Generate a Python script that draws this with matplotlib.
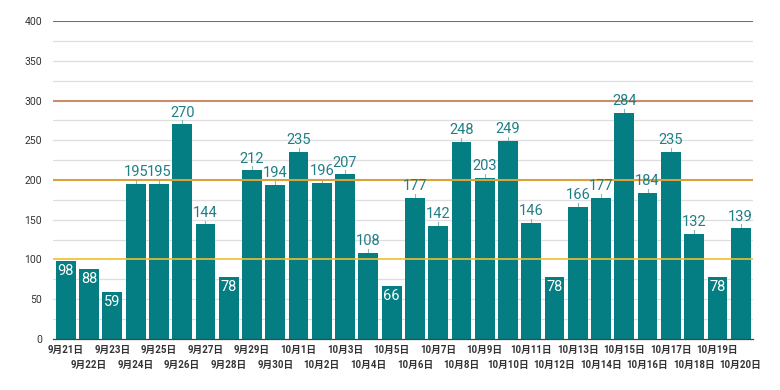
import matplotlib
matplotlib.use("Agg")
import matplotlib.pyplot as plt
import numpy as np

dates = ["9月21日", "9月22日", "9月23日", "9月24日", "9月25日", "9月26日", "9月27日", "9月28日",
         "9月29日", "9月30日", "10月1日", "10月2日", "10月3日", "10月4日", "10月5日", "10月6日",
         "10月7日", "10月8日", "10月9日", "10月10日", "10月11日", "10月12日", "10月13日", "10月14日",
         "10月15日", "10月16日", "10月17日", "10月18日", "10月19日", "10月20日"]
values = [98, 88, 59, 195, 195, 270, 144, 78, 212, 194, 235, 196, 207, 108, 66, 177,
          142, 248, 203, 249, 146, 78, 166, 177, 284, 184, 235, 132, 78, 139]
ref_levels = [100, 200, 300, 400]
ref_colors = ["#f0c030", "#d9a23a", "#c98c6c", "#93645a"]
ref_widths = [1.2, 1.5, 1.5, 1.5]
yticks = [0, 50, 100, 150, 200, 250, 300, 350, 400]

plt.rcParams['font.family'] = ['Roboto', 'Noto Sans CJK JP', 'DejaVu Sans']

fig = plt.figure(figsize=(7.8, 3.9), dpi=100)
ax = fig.add_axes([0.068, 0.131, 0.898, 0.815])

x = np.arange(len(values))
bar_color = "#057e83"
ax.set_xlim(-0.55, len(values) - 0.45)
ax.set_ylim(0, 400)

# grid
for g in np.arange(25, 400, 25):
    if g in ref_levels:
        continue
    ax.axhline(g, color="#dedede", lw=0.9, zorder=0)
for lvl, c, w in zip(ref_levels, ref_colors, ref_widths):
    ax.axhline(lvl, color=c, lw=w, zorder=3)

ax.bar(x, values, width=0.85, color=bar_color, zorder=2)

for xi, v in zip(x, values):
    if v < 100:
        ax.annotate(str(v), (xi, v), xytext=(0, -2), textcoords="offset points",
                    ha="center", va="top", color="white", fontsize=10.5, zorder=4)
    else:
        ax.plot([xi, xi], [v, v + 5], color="#8fb6b8", lw=0.8, zorder=1)
        ax.annotate(str(v), (xi, v), xytext=(0, 3.5), textcoords="offset points",
                    ha="center", va="bottom", color="#1f7f86", fontsize=10.5, zorder=4)

ax.set_yticks(yticks)
ax.set_yticklabels([str(t) for t in yticks], fontsize=7.5, color="#333333")

# two staggered rows of date labels
ax.set_xticks(x[0::2])
ax.set_xticklabels(dates[0::2], fontsize=7, color="#333333", fontweight="bold")
ax.set_xticks(x[1::2], minor=True)
ax.set_xticklabels(dates[1::2], minor=True, fontsize=7, color="#333333", fontweight="bold")
ax.tick_params(axis="x", which="major", length=0, pad=4)
ax.tick_params(axis="x", which="minor", length=0, pad=15)
ax.tick_params(axis="y", length=0, pad=8)
for s in ["top", "right", "left"]:
    ax.spines[s].set_visible(False)
ax.spines["bottom"].set_color("#444444")
ax.spines["bottom"].set_linewidth(0.9)

fig.savefig("out.png", dpi=100, facecolor="white")
